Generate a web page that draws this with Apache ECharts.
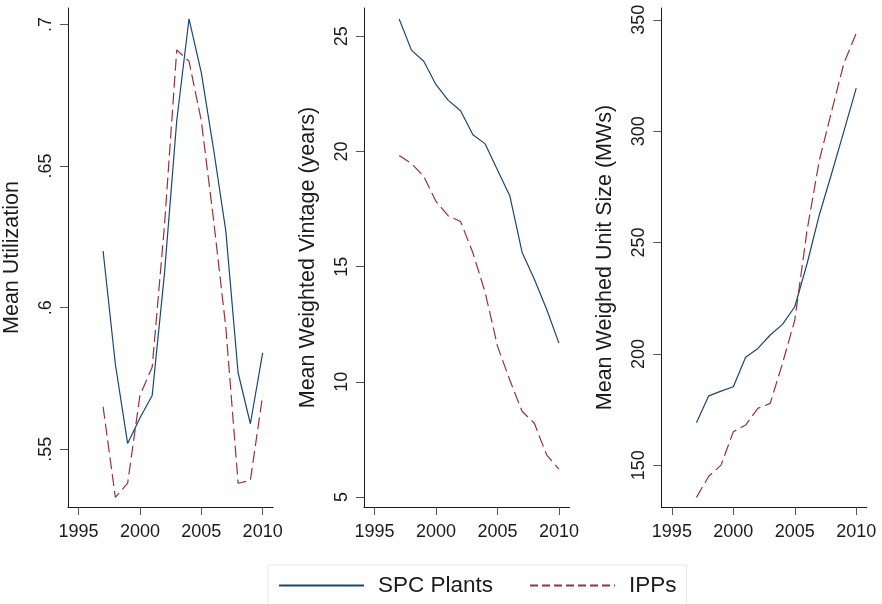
<!DOCTYPE html>
<html>
<head>
<meta charset="utf-8">
<script src="https://cdn.jsdelivr.net/npm/echarts@6/dist/echarts.min.js"></script>
<style>
  html, body { margin: 0; padding: 0; background: #fff; }
  #chart { width: 882px; height: 604px; }
</style>
</head>
<body>
<div id="chart"></div>
<script>
// Sample years shared by all three panels
const years = [1997, 1998, 1999, 2000, 2001, 2002, 2003, 2004, 2005, 2006, 2007, 2008, 2009, 2010];

// Mean utilization
const spcUtil = [0.620, 0.580, 0.552, 0.561, 0.569, 0.612, 0.666, 0.702, 0.683, 0.656, 0.627, 0.577, 0.559, 0.584];
const ippUtil = [0.565, 0.533, 0.538, 0.569, 0.579, 0.629, 0.691, 0.687, 0.666, 0.631, 0.593, 0.538, 0.539, 0.569];

// Mean weighted vintage (years)
const spcVintage = [25.75, 24.40, 23.92, 22.90, 22.22, 21.77, 20.73, 20.33, 19.20, 18.08, 15.63, 14.45, 13.15, 11.68];
const ippVintage = [19.83, 19.48, 18.92, 17.83, 17.20, 16.96, 15.60, 13.88, 11.55, 10.08, 8.72, 8.20, 6.83, 6.21];

// Mean weighed unit size (MWs)
const spcSize = [169.1, 181.2, 183.3, 185.3, 198.5, 202.5, 208.5, 213.3, 221.2, 240.5, 262.5, 281.0, 300.0, 319.3];
const ippSize = [135.6, 145.1, 150.1, 165.1, 168.1, 175.6, 177.8, 195.8, 215.2, 255.5, 287.0, 309.0, 330.5, 344.0];

// Tick positions
const yearTicks = [1995, 2000, 2005, 2010];
const utilTicks = [0.55, 0.60, 0.65, 0.70];
const vintageTicks = [5, 10, 15, 20, 25];
const sizeTicks = [150, 200, 250, 300, 350];

const seriesNames = ['SPC Plants', 'IPPs'];
const spcColor = '#1a476f';
const ippColor = '#90353b';
const inkColor = '#1b1b1b';
const fontFamily = '"Liberation Sans", Arial, Helvetica, sans-serif';

const panels = [
  { title: 'Mean Utilization', spc: spcUtil, ipp: ippUtil, ticks: utilTicks,
    min: 0.5296, max: 0.7058, left: 67.7,
    fmt: v => String(Number(v.toFixed(2))).replace(/^0/, '') },
  { title: 'Mean Weighted Vintage (years)', spc: spcVintage, ipp: ippVintage, ticks: vintageTicks,
    min: 4.565, max: 26.23, left: 364,
    fmt: v => String(v) },
  { title: 'Mean Weighed Unit Size (MWs)', spc: spcSize, ipp: ippSize, ticks: sizeTicks,
    min: 131.3, max: 355.3, left: 661.3,
    fmt: v => String(v) }
];

const pairs = vals => years.map((y, i) => [y, vals[i]]);

const axisLine = { show: true, lineStyle: { color: inkColor, width: 1 } };
const axisTickStyle = { lineStyle: { color: '#555', width: 1 }, length: 8 };

const grids = [], xAxes = [], yAxes = [], series = [];
panels.forEach((p, i) => {
  grids.push({ left: p.left, top: 8, width: 205.5, height: 499 });
  xAxes.push({
    type: 'value', gridIndex: i, min: 1994.14, max: 2010.86,
    axisLine: axisLine,
    axisTick: Object.assign({ show: true, customValues: yearTicks }, axisTickStyle),
    axisLabel: { customValues: yearTicks, color: inkColor, fontSize: 18, fontFamily: fontFamily, margin: 16,
                 formatter: v => String(v) },
    splitLine: { show: false }
  });
  yAxes.push({
    type: 'value', gridIndex: i, min: p.min, max: p.max,
    name: p.title, nameLocation: 'middle', nameGap: 45, nameRotate: 90,
    nameTextStyle: { color: inkColor, fontSize: 21.5, fontFamily: fontFamily },
    axisLine: axisLine,
    axisTick: Object.assign({ show: true, customValues: p.ticks }, axisTickStyle),
    axisLabel: { customValues: p.ticks, rotate: 90, color: inkColor, fontSize: 18, fontFamily: fontFamily,
                 margin: 13, formatter: p.fmt },
    splitLine: { show: false }
  });
  series.push({
    name: seriesNames[0], type: 'line', xAxisIndex: i, yAxisIndex: i,
    data: pairs(p.spc), symbol: 'none', silent: true,
    lineStyle: { color: spcColor, width: 1.2 }, itemStyle: { color: spcColor }
  });
  series.push({
    name: seriesNames[1], type: 'line', xAxisIndex: i, yAxisIndex: i,
    data: pairs(p.ipp), symbol: 'none', silent: true,
    lineStyle: { color: ippColor, width: 1.2, type: [12, 5] }, itemStyle: { color: ippColor }
  });
});

const chart = echarts.init(document.getElementById('chart'), null, { renderer: 'canvas' });
chart.setOption({
  animation: false,
  backgroundColor: '#ffffff',
  grid: grids,
  xAxis: xAxes,
  yAxis: yAxes,
  series: series,
  legend: {
    left: 268, top: 565,
    data: [
      { name: seriesNames[0] },
      { name: seriesNames[1], lineStyle: { type: [8, 4] } }
    ],
    itemWidth: 85, itemHeight: 14, itemGap: 36,
    itemStyle: { opacity: 0 },
    padding: [9, 10, 30, 10],
    borderColor: '#e4eaea', borderWidth: 1,
    selectedMode: false,
    textStyle: { color: inkColor, fontSize: 22.5, fontFamily: fontFamily, padding: [0, 0, 0, 9] }
  }
});
</script>
</body>
</html>
